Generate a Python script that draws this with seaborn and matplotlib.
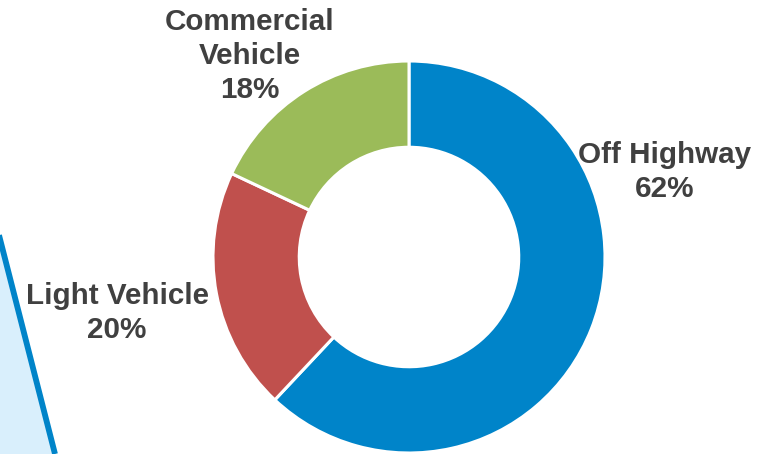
import matplotlib
matplotlib.use("Agg")
import matplotlib.pyplot as plt
import seaborn as sns
from matplotlib.patches import Polygon

categories = ["Off Highway", "Light Vehicle", "Commercial\nVehicle"]
values = [62, 20, 18]
colors = ["#0084C9", "#C0504D", "#9BBB59"]

sns.set_theme(style="white")
plt.rcParams['font.family'] = ['Liberation Sans', 'DejaVu Sans']

W, H = 757, 454
fig = plt.figure(figsize=(W / 100, H / 100), dpi=100)
ax = fig.add_axes([0, 0, 1, 1])
ax.set_xlim(0, W)
ax.set_ylim(0, H)
ax.set_aspect('equal')
ax.axis('off')

# left decorative shape
poly = Polygon([(-10, H - 238 + 38), (0, H - 238), (55, 0), (-10, 0)], closed=True,
               facecolor="#D9EFFC", edgecolor="none", zorder=0)
ax.add_patch(poly)
ax.plot([-10, 55], [H - 238 + 38, 0], color="#0084C9", lw=4.2, solid_capstyle='butt', zorder=1)

cx, cy, R = 409, H - 257, 196
wedges, _ = ax.pie(values, colors=colors, startangle=90, counterclock=False,
                   center=(cx, cy), radius=R, frame=True,
                   wedgeprops=dict(width=R * 0.44, edgecolor="white", linewidth=2.2))
ax.set_xlim(0, W)
ax.set_ylim(0, H)
ax.axis('off')

label_pos = [(665, 172), (117, 313), (250, 56)]
for cat, v, (x, y) in zip(categories, values, label_pos):
    ax.text(x, H - y, f"{cat}\n{v}%", ha="center", va="center", fontsize=21.3,
            fontweight="bold", color="#404040", linespacing=1.27)

fig.savefig("out.png", dpi=100)
